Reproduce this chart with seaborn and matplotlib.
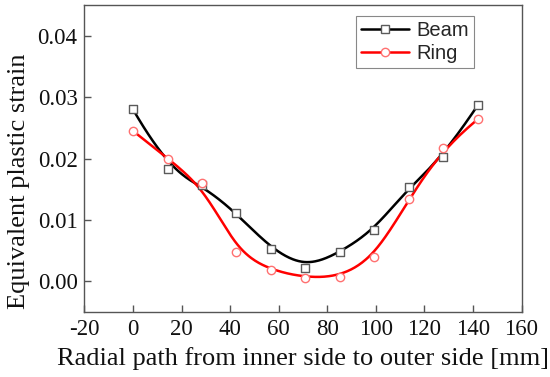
import numpy as np
import pandas as pd
import matplotlib
matplotlib.use("Agg")
import matplotlib.pyplot as plt
from matplotlib.lines import Line2D
import seaborn as sns

# ---- data ----
radial_mm = [0.0, 14.2, 28.4, 42.6, 56.8, 71.0, 85.2, 99.4, 113.6, 127.8, 142.0]
beam_strain = [0.0280, 0.0183, 0.0157, 0.0111, 0.0053, 0.0022, 0.0047, 0.0084, 0.0154, 0.0203, 0.0287]
ring_strain = [0.0245, 0.0200, 0.0161, 0.0048, 0.0018, 0.0006, 0.0007, 0.0039, 0.0134, 0.0218, 0.0264]
series_names = ["Beam", "Ring"]
x_ticks = [-20, 0, 20, 40, 60, 80, 100, 120, 140, 160]
y_ticks = [0.00, 0.01, 0.02, 0.03, 0.04]

sns.set_style("ticks")
plt.rcParams["font.family"] = ["Liberation Serif", "DejaVu Serif"]


def bspline_curve(xs, ys, n_out=300, k=3):
    """Clamped cubic B-spline using data points as control points (Origin 'B-Spline' connection)."""
    P = np.column_stack([xs, ys]).astype(float)
    n = len(P)
    inner = np.arange(1, n - k)
    knots = np.concatenate([np.zeros(k + 1), inner, np.full(k + 1, n - k)]).astype(float)
    t = np.linspace(0, n - k, n_out)
    t[-1] -= 1e-9
    N = np.zeros((n_out, len(knots) - 1))
    for i in range(len(knots) - 1):
        N[:, i] = np.where((t >= knots[i]) & (t < knots[i + 1]), 1.0, 0.0)
    for d in range(1, k + 1):
        Nn = np.zeros((n_out, len(knots) - 1 - d))
        for i in range(len(knots) - 1 - d):
            a = knots[i + d] - knots[i]
            b = knots[i + d + 1] - knots[i + 1]
            term = np.zeros(n_out)
            if a > 0:
                term += (t - knots[i]) / a * N[:, i]
            if b > 0:
                term += (knots[i + d + 1] - t) / b * N[:, i + 1]
            Nn[:, i] = term
        N = Nn
    C = N @ P
    return C[:, 0], C[:, 1]


fig = plt.figure(figsize=(5.5, 3.77), dpi=100)
ax = fig.add_axes([0.1536, 0.1724, 0.7946, 0.814])

styles = {
    "Beam": dict(line="#000000", edge="#5a5a5a", marker="s"),
    "Ring": dict(line="#ff0000", edge="#ff7070", marker="o"),
}

for name, vals in zip(series_names, [beam_strain, ring_strain]):
    cx, cy = bspline_curve(radial_mm, vals)
    curve = pd.DataFrame({"x": cx, "y": cy})
    sns.lineplot(data=curve, x="x", y="y", ax=ax, color=styles[name]["line"],
                 linewidth=1.8, sort=False, estimator=None, zorder=2)
    pts = pd.DataFrame({"x": radial_mm, "y": vals})
    sns.scatterplot(data=pts, x="x", y="y", ax=ax, marker=styles[name]["marker"],
                    s=36, facecolor="white", edgecolor=styles[name]["edge"],
                    linewidth=1.0, zorder=3)

ax.set_xlim(-20, 160)
ax.set_ylim(-0.005, 0.045)
ax.set_xticks(x_ticks)
ax.set_yticks(y_ticks)
ax.set_xticklabels([str(v) for v in x_ticks])
ax.set_yticklabels([f"{v:.2f}" for v in y_ticks])

for s in ax.spines.values():
    s.set_color("#555555")
    s.set_linewidth(1.0)
ax.tick_params(direction="in", length=5, width=1.0, color="#555555",
               labelsize=16.5, labelcolor="#111111", pad=5)

ax.set_xlabel("Radial path from inner side to outer side [mm]", fontsize=19, color="#111111")
ax.set_ylabel("Equivalent plastic strain", fontsize=19, color="#111111")
ax.xaxis.set_label_coords(0.5, -0.115)
ax.yaxis.set_label_coords(-0.125, 0.427)

handles = [
    Line2D([0], [0], color=styles[n]["line"], lw=1.8, marker=styles[n]["marker"],
           markersize=6, markerfacecolor="white", markeredgecolor=styles[n]["edge"],
           markeredgewidth=1.0)
    for n in series_names
]
leg = ax.legend(handles, series_names, loc="upper right", bbox_to_anchor=(0.891, 0.964),
                prop={"family": ["Liberation Sans", "DejaVu Sans"], "size": 14.5},
                frameon=True, fancybox=False, edgecolor="#888888", framealpha=1,
                handlelength=2.4, handletextpad=0.35, borderpad=0.25, labelspacing=0.2,
                borderaxespad=0.0)
leg.get_frame().set_linewidth(0.8)

fig.savefig("out.png", dpi=100)
